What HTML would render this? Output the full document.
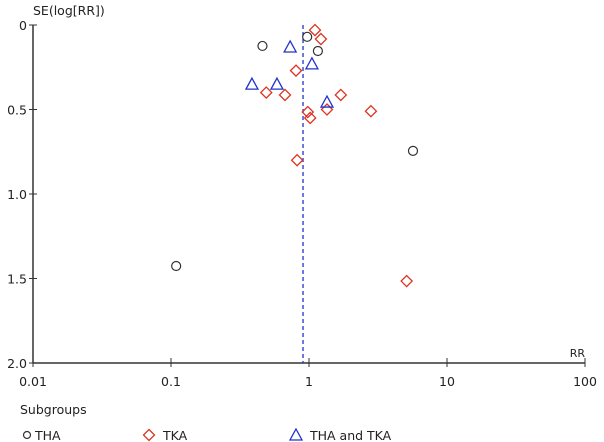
<!DOCTYPE html>
<html><head><meta charset="utf-8"><style>
body{margin:0;background:#fff;}
svg{display:block;font-family:"DejaVu Sans","Liberation Sans",sans-serif;font-size:12.5px;}
</style></head><body>
<svg id="chart" width="604" height="442"></svg>
<script>
const xTicks=[0.01,0.1,1,10,100];
const xTickLabels=["0.01","0.1","1","10","100"];
const yTicks=[0,0.5,1.0,1.5,2.0];
const yTickLabels=["0","0.5","1.0","1.5","2.0"];
const pooledRR=0.905;
const thaRR=[0.46,0.97,1.16,5.67,0.109];
const thaSE=[0.124,0.07,0.154,0.745,1.426];
const tkaRR=[1.105,1.22,0.805,0.49,0.67,1.7,0.98,1.02,1.35,2.81,0.82,5.1];
const tkaSE=[0.03,0.083,0.27,0.40,0.414,0.414,0.515,0.55,0.50,0.51,0.80,1.515];
const bothRR=[0.73,1.05,0.386,0.586,1.35];
const bothSE=[0.13,0.23,0.35,0.35,0.456];

const NS="http://www.w3.org/2000/svg";
const svg=document.getElementById('chart');
const X0=33,DEC=138,Y0=25,YU=169;
function sx(v){return X0+(Math.log10(v)+2)*DEC;}
function sy(v){return Y0+v*YU;}
function mk(t,a,txt){const e=document.createElementNS(NS,t);for(const k in a)e.setAttribute(k,a[k]);if(txt!==undefined)e.textContent=txt;svg.appendChild(e);return e;}
let e;
e=mk('line',{x1:X0,y1:Y0,x2:X0,y2:sy(2),stroke:'#333','stroke-width':1.5});

e=mk('line',{x1:X0,y1:sy(2),x2:sx(100),y2:sy(2),stroke:'#333','stroke-width':1.5});

yTicks.forEach((v,i)=>{
 e=mk('line',{x1:X0-4,y1:sy(v),x2:X0+4,y2:sy(v),stroke:'#333'});
 
 e=mk('text',{x:X0-6,y:sy(v)+5,'text-anchor':'end',fill:'#222'},yTickLabels[i]);
 
});
xTicks.forEach((v,i)=>{
 e=mk('line',{x1:sx(v),y1:sy(2)-5,x2:sx(v),y2:sy(2)+4,stroke:'#333'});
 
 e=mk('text',{x:sx(v),y:sy(2)+23,'text-anchor':'middle',fill:'#222'},xTickLabels[i]);
 
});
e=mk('text',{x:33,y:15,fill:'#222'},'SE(log[RR])');

e=mk('text',{x:585,y:357,'text-anchor':'end',fill:'#222','font-size':11},'RR');

e=mk('line',{x1:sx(pooledRR),y1:Y0,x2:sx(pooledRR),y2:sy(2),stroke:'#2233cc','stroke-width':1.3,'stroke-dasharray':'4,3'});

function circ(x,y){return mk('circle',{cx:x,cy:y,r:4.5,fill:'none',stroke:'#333','stroke-width':1.2});}
function dia(x,y){const r=5.5;return mk('polygon',{points:`${x},${y-r} ${x+r},${y} ${x},${y+r} ${x-r},${y}`,fill:'none',stroke:'#dd3322','stroke-width':1.3});}
function tri(x,y){return mk('polygon',{points:`${x},${y-6} ${x+6},${y+5} ${x-6},${y+5}`,fill:'none',stroke:'#2233cc','stroke-width':1.3});}
thaRR.forEach((v,i)=>{e=circ(sx(v),sy(thaSE[i]));});
tkaRR.forEach((v,i)=>{e=dia(sx(v),sy(tkaSE[i]));});
bothRR.forEach((v,i)=>{e=tri(sx(v),sy(bothSE[i]));});
e=mk('text',{x:20,y:414,fill:'#222'},'Subgroups');

e=circ(27,435);e.setAttribute('r',3.5);
e=mk('text',{x:35,y:440,fill:'#222'},'THA');
e=dia(149,435);
e=mk('text',{x:163,y:440,fill:'#222'},'TKA');
e=tri(296,435);
e=mk('text',{x:310,y:440,fill:'#222'},'THA and TKA');
</script>
</body></html>
